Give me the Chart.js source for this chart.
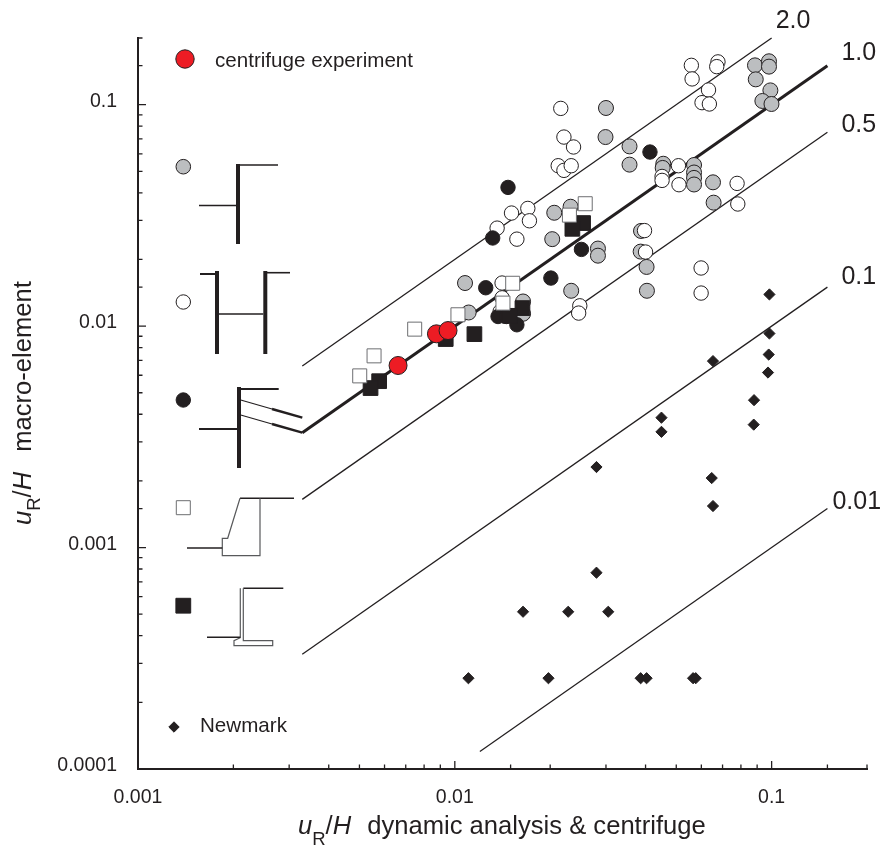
<!DOCTYPE html>
<html lang="en">
<head>
    <meta charset="UTF-8">
    <title>Macro-element vs dynamic analysis</title>
    <script src="https://cdn.jsdelivr.net/npm/chart.js@4"></script>
    <style>
        html, body { margin: 0; padding: 0; background: #fff; }
        canvas { display: block; }
    </style>
</head>
<body>
    <canvas id="chart" width="885" height="845"></canvas>
    <script>
        const grayX = [0.0300, 0.0299, 0.0356, 0.0356, 0.0886, 0.0981, 0.0981, 0.0891, 0.0991, 0.0935, 0.0999, 0.0455, 0.0453, 0.0569, 0.0569, 0.0569, 0.0569, 0.0653, 0.0656, 0.0206, 0.0232, 0.0203, 0.0283, 0.0283, 0.0387, 0.0386, 0.0403, 0.0404, 0.0233, 0.01077, 0.01106, 0.01642, 0.01642];
        const grayY = [0.0966, 0.0714, 0.0648, 0.0536, 0.1505, 0.157, 0.1485, 0.1301, 0.1160, 0.1039, 0.1007, 0.0541, 0.0518, 0.0534, 0.0494, 0.0467, 0.0436, 0.0446, 0.0361, 0.0325, 0.0346, 0.0247, 0.0224, 0.0208, 0.0269, 0.0217, 0.0185, 0.01444, 0.01444, 0.01565, 0.01152, 0.01292, 0.01137];

        const whiteX = [0.0216, 0.0221, 0.0237, 0.0212, 0.0221, 0.0233, 0.0558, 0.0677, 0.0671, 0.0561, 0.0632, 0.0603, 0.0636, 0.0508, 0.0451, 0.0451, 0.0510, 0.0778, 0.0782, 0.0170, 0.0151, 0.0172, 0.0136, 0.0157, 0.0397, 0.0400, 0.0599, 0.0599, 0.0248, 0.0246, 0.0141, 0.0141, 0.0139];
        const whiteY = [0.0962, 0.0714, 0.0644, 0.0530, 0.0505, 0.0530, 0.1505, 0.156, 0.1485, 0.1307, 0.1165, 0.1021, 0.1007, 0.0530, 0.0474, 0.0455, 0.0435, 0.0441, 0.0356, 0.0340, 0.0324, 0.0299, 0.0277, 0.0247, 0.0270, 0.0216, 0.0183, 0.0141, 0.01235, 0.01145, 0.01565, 0.01342, 0.01164];

        const blackX = [0.0413, 0.01472, 0.01317, 0.0251, 0.0201, 0.01252, 0.01369, 0.01455, 0.0157];
        const blackY = [0.0611, 0.0423, 0.0250, 0.0222, 0.01648, 0.0149, 0.01105, 0.01105, 0.01014];

        const blackSquareX = [0.0254, 0.0235, 0.00577, 0.00542, 0.00936, 0.01153, 0.01635, 0.0149];
        const blackSquareY = [0.0292, 0.0275, 0.00564, 0.00525, 0.00874, 0.0092, 0.01206, 0.01113];

        const whiteSquareX = [0.0258, 0.0230, 0.01523, 0.01419, 0.01023, 0.00747, 0.00556, 0.00501];
        const whiteSquareY = [0.0357, 0.0317, 0.01561, 0.0127, 0.01125, 0.00969, 0.00734, 0.00596];

        const centrifugeX = [0.00662, 0.00875, 0.00952];
        const centrifugeY = [0.00664, 0.00923, 0.00955];

        const newmarkX = [0.0984, 0.0984, 0.0979, 0.0974, 0.0653, 0.0880, 0.0878, 0.0449, 0.0449, 0.0280, 0.0647, 0.0653, 0.0280, 0.01642, 0.0228, 0.0305, 0.01104, 0.01975, 0.0386, 0.0403, 0.0565, 0.0576];
        const newmarkY = [0.0139, 0.00926, 0.00744, 0.00617, 0.00695, 0.00463, 0.00359, 0.00386, 0.00333, 0.00231, 0.00206, 0.00154, 0.00077, 0.000513, 0.000513, 0.000513, 0.000257, 0.000257, 0.000257, 0.000257, 0.000257, 0.000257];

        const ratioLabels = ['2.0', '1.0', '0.5', '0.1', '0.01'];
        const ratioX = [[0.0033, 0.1], [0.0033, 0.15], [0.0033, 0.15], [0.0033, 0.15], [0.012, 0.15]];
        const ratioY = [[0.0066, 0.2], [0.0033, 0.15], [0.00165, 0.075], [0.00033, 0.015], [0.00012, 0.0015]];

        const ink = '#231f20';
        const FONT = '"Liberation Sans", Arial, sans-serif';

        function toPoints(xs, ys) {
            return xs.map((x, i) => ({ x: x, y: ys[i] }));
        }

        function markerSet(label, xs, ys, style, radius, fill, stroke) {
            return {
                label: label,
                data: toPoints(xs, ys),
                pointStyle: style,
                pointRadius: radius,
                pointBackgroundColor: fill,
                pointBorderColor: stroke,
                pointBorderWidth: 1,
                showLine: false,
                clip: false
            };
        }

        // first dataset ends up on top
        const datasets = [
            markerSet('Newmark', newmarkX, newmarkY, 'rectRot', 5.6, ink, ink),
            markerSet('centrifuge experiment', centrifugeX, centrifugeY, 'circle', 9, '#ed1c24', ink),
            markerSet('gravity wall', whiteSquareX, whiteSquareY, 'rect', 9.9, '#fff', '#6d6e71'),
            markerSet('L wall', blackSquareX, blackSquareY, 'rect', 10.4, ink, ink),
            markerSet('anchored wall', blackX, blackY, 'circle', 7.2, ink, ink),
            markerSet('two walls', whiteX, whiteY, 'circle', 7.2, '#fff', ink),
            markerSet('cantilever', grayX, grayY, 'circle', 7.5, '#bcbec0', ink)
        ];

        ratioLabels.forEach((label, i) => {
            datasets.push({
                label: label,
                data: toPoints(ratioX[i], ratioY[i]),
                showLine: true,
                tension: 0,
                pointRadius: 0,
                borderColor: ink,
                borderWidth: label === '1.0' ? 3 : 1.3,
                clip: false
            });
        });

        // label offset from the end of each ratio line
        const ratioLabelOffset = {
            '2.0': [4, -17],
            '1.0': [14, -13],
            '0.5': [14, -7],
            '0.1': [14, -10],
            '0.01': [5, -6]
        };

        function isDecade(value) {
            const l = Math.log10(value);
            return Math.abs(l - Math.round(l)) < 1e-9;
        }

        function decadeLabel(value) {
            return isDecade(value) ? String(value) : '';
        }

        // ticks point into the plot here, longer on the decades
        const inwardTicks = {
            id: 'inwardTicks',
            afterDatasetsDraw(chart) {
                const ctx = chart.ctx;
                const area = chart.chartArea;
                ctx.save();
                ctx.strokeStyle = ink;
                ctx.lineWidth = 1.3;
                ctx.beginPath();
                chart.scales.x.ticks.forEach(t => {
                    const px = chart.scales.x.getPixelForValue(t.value);
                    ctx.moveTo(px, area.bottom);
                    ctx.lineTo(px, area.bottom - (isDecade(t.value) ? 8 : 4.5));
                });
                chart.scales.y.ticks.forEach(t => {
                    const py = chart.scales.y.getPixelForValue(t.value);
                    ctx.moveTo(area.left, py);
                    ctx.lineTo(area.left + (isDecade(t.value) ? 8 : 4.5), py);
                });
                ctx.stroke();
                ctx.restore();
            }
        };

        function drawRich(ctx, parts, x, y) {
            ctx.textAlign = 'left';
            ctx.textBaseline = 'alphabetic';
            parts.forEach(p => {
                ctx.font = (p.italic ? 'italic ' : '') + p.size + 'px ' + FONT;
                ctx.fillText(p.text, x, y + (p.drop || 0));
                x += ctx.measureText(p.text).width + (p.gap || 0);
            });
        }

        const xTitleParts = [
            { text: 'u', italic: true, size: 25.6 },
            { text: 'R', size: 18.5, drop: 11 },
            { text: '/', size: 25.6 },
            { text: 'H', italic: true, size: 25.6, gap: 16 },
            { text: 'dynamic analysis & centrifuge', size: 25.6 }
        ];
        const yTitleParts = [
            { text: 'u', italic: true, size: 25.6 },
            { text: 'R', size: 18.5, drop: 9 },
            { text: '/', size: 25.6 },
            { text: 'H', italic: true, size: 25.6, gap: 20 },
            { text: 'macro-element', size: 25.6 }
        ];

        // wall sketches beside the legend keys: [line width, colour, points...]
        const sketches = [
            [4, ink, [238, 164], [238, 244]],
            [1.6, ink, [240, 165], [278, 165]],
            [1.6, ink, [199, 205.5], [237, 205.5]],

            [4, ink, [217, 271], [217, 354]],
            [4, ink, [265.3, 271], [265.3, 354]],
            [2, ink, [200, 274], [215, 274]],
            [1.6, ink, [267, 272.7], [290, 272.7]],
            [1.4, ink, [219, 314], [263.3, 314]],

            [4, ink, [239, 387], [239, 468]],
            [2, ink, [241, 389], [278.7, 389]],
            [2, ink, [199, 429], [237, 429]],
            [1.2, ink, [240.7, 400], [272, 409]],
            [2.4, ink, [272, 409], [302.3, 417.7]],
            [1.2, ink, [240.7, 415], [272, 424]],
            [2.4, ink, [272, 424], [302.3, 432.7]],

            [1.4, ink, [240, 498.3], [294, 498.3]],
            [1.2, '#58595b', [240, 498.3], [227.7, 538.3], [222.3, 538.3], [222.3, 555.7], [260, 555.7], [260, 498.3]],
            [1.6, ink, [187, 548], [222.3, 548]],

            [1.4, ink, [243.3, 588.3], [283.3, 588.3]],
            [1.2, '#58595b', [240.3, 588.3], [240.3, 637.7], [234, 640.7], [234, 645.7], [272.7, 645.7], [272.7, 640.7], [243.3, 640.7], [243.3, 588.3]],
            [1.4, ink, [207, 637.3], [240.3, 637.3]]
        ];

        const legendKeys = [
            { shape: 'circle', x: 185, y: 59, r: 9.2, fill: '#ed1c24', stroke: ink },
            { shape: 'circle', x: 183.3, y: 166.7, r: 7.3, fill: '#bcbec0', stroke: ink },
            { shape: 'circle', x: 183.3, y: 302, r: 7.2, fill: '#fff', stroke: ink },
            { shape: 'circle', x: 183.3, y: 400, r: 7.2, fill: ink, stroke: ink },
            { shape: 'square', x: 183.3, y: 507.7, r: 7, fill: '#fff', stroke: '#6d6e71' },
            { shape: 'square', x: 183.3, y: 605.7, r: 7.4, fill: ink, stroke: ink },
            { shape: 'diamond', x: 174, y: 727, r: 5.2, fill: ink, stroke: ink }
        ];

        const annotations = {
            id: 'annotations',
            afterDatasetsDraw(chart) {
                const ctx = chart.ctx;
                ctx.save();
                ctx.lineCap = 'butt';
                ctx.lineJoin = 'miter';

                sketches.forEach(s => {
                    ctx.lineWidth = s[0];
                    ctx.strokeStyle = s[1];
                    ctx.beginPath();
                    s.slice(2).forEach((p, i) => i ? ctx.lineTo(p[0], p[1]) : ctx.moveTo(p[0], p[1]));
                    ctx.stroke();
                });

                legendKeys.forEach(k => {
                    ctx.beginPath();
                    if (k.shape === 'circle') {
                        ctx.arc(k.x, k.y, k.r, 0, Math.PI * 2);
                    } else if (k.shape === 'square') {
                        ctx.rect(k.x - k.r, k.y - k.r, k.r * 2, k.r * 2);
                    } else {
                        ctx.moveTo(k.x, k.y - k.r);
                        ctx.lineTo(k.x + k.r, k.y);
                        ctx.lineTo(k.x, k.y + k.r);
                        ctx.lineTo(k.x - k.r, k.y);
                        ctx.closePath();
                    }
                    ctx.fillStyle = k.fill;
                    ctx.fill();
                    ctx.lineWidth = 1;
                    ctx.strokeStyle = k.stroke;
                    ctx.stroke();
                });

                ctx.fillStyle = ink;
                ctx.textAlign = 'left';
                ctx.textBaseline = 'alphabetic';
                ctx.font = '20.6px ' + FONT;
                ctx.fillText('centrifuge experiment', 215, 66.5);
                ctx.fillText('Newmark', 200, 732);

                // ratio labels hang off the last point of each line
                ctx.font = '25px ' + FONT;
                ratioLabels.forEach((label, i) => {
                    const endX = chart.scales.x.getPixelForValue(ratioX[i][1]);
                    const endY = chart.scales.y.getPixelForValue(ratioY[i][1]);
                    const off = ratioLabelOffset[label];
                    ctx.textBaseline = 'middle';
                    ctx.fillText(label, endX + off[0], endY + off[1]);
                });

                drawRich(ctx, xTitleParts, 298, 834);

                ctx.translate(30.7, 525);
                ctx.rotate(-Math.PI / 2);
                drawRich(ctx, yTitleParts, 0, 0);
                ctx.restore();
            }
        };

        Chart.defaults.font.family = FONT;
        Chart.defaults.color = ink;

        new Chart(document.getElementById('chart'), {
            type: 'scatter',
            data: { datasets: datasets },
            plugins: [inwardTicks, annotations],
            options: {
                responsive: false,
                animation: false,
                events: [],
                layout: { padding: { top: 38, right: 18, left: 0, bottom: 0 } },
                plugins: {
                    legend: { display: false },
                    tooltip: { enabled: false }
                },
                scales: {
                    x: {
                        type: 'logarithmic',
                        min: 0.001,
                        max: 0.2,
                        afterFit: scale => { scale.height = 76; },
                        grid: { display: false },
                        border: { display: true, color: ink, width: 2 },
                        ticks: {
                            autoSkip: false,
                            maxRotation: 0,
                            padding: 9,
                            font: { size: 19.5 },
                            color: ink,
                            callback: value => decadeLabel(value)
                        }
                    },
                    y: {
                        type: 'logarithmic',
                        min: 0.0001,
                        max: 0.2,
                        afterFit: scale => { scale.width = 138; },
                        grid: { display: false },
                        border: { display: true, color: ink, width: 2 },
                        ticks: {
                            autoSkip: false,
                            padding: 13,
                            labelOffset: -3,
                            font: { size: 19.5 },
                            color: ink,
                            callback: value => decadeLabel(value)
                        }
                    }
                }
            }
        });
    </script>
</body>
</html>
